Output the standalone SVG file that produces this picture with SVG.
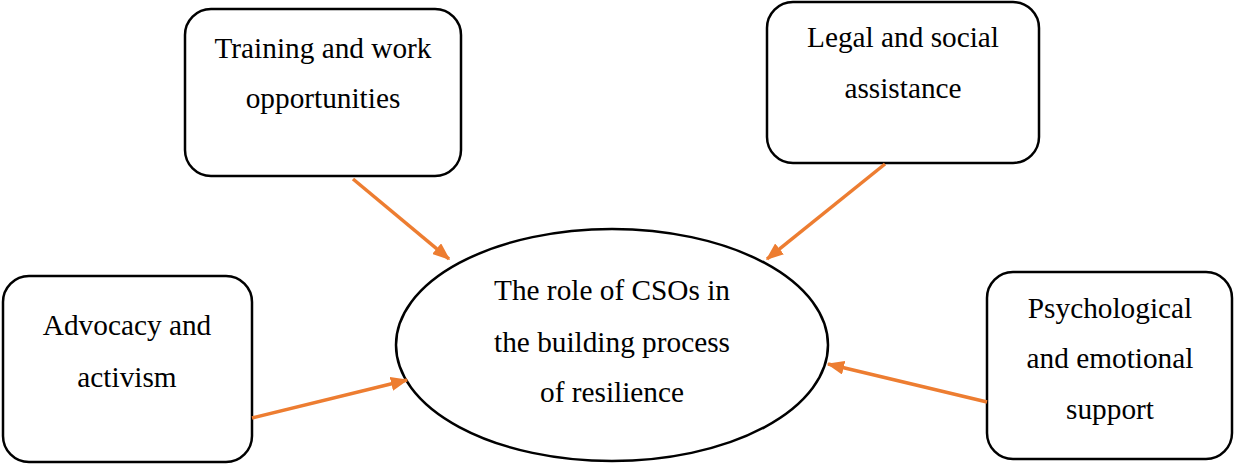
<svg xmlns="http://www.w3.org/2000/svg" width="1234" height="464" viewBox="0 0 1234 464">
<style>
.box{fill:#fff;stroke:#000;stroke-width:2.5}
.t{font-family:"Liberation Serif","Times New Roman",serif;font-size:29.3px;fill:#000;text-anchor:middle}
.c{stroke:#ED7D31;stroke-width:3.5;fill:none;marker-end:url(#ah)}
</style>
<defs>
<marker id="ah" markerWidth="5" markerHeight="4" refX="4.6" refY="2" orient="auto" markerUnits="strokeWidth">
<path d="M0,0 L5,2 L0,4 Z" fill="#ED7D31"/>
</marker>
</defs>
<g id="center">
<ellipse class="box" cx="612" cy="345" rx="216" ry="116"/>
<text class="t" x="612" y="300">The role of CSOs in</text>
<text class="t" x="612" y="352">the building process</text>
<text class="t" x="612" y="402">of resilience</text>
</g>
<g id="training">
<rect class="box" x="185" y="9" width="276" height="167" rx="26"/>
<text class="t" x="323" y="58">Training and work</text>
<text class="t" x="323" y="108">opportunities</text>
</g>
<g id="legal">
<rect class="box" x="767" y="2" width="272" height="161" rx="26"/>
<text class="t" x="903" y="47">Legal and social</text>
<text class="t" x="903" y="98">assistance</text>
</g>
<g id="advocacy">
<rect class="box" x="3" y="276" width="249" height="186" rx="26"/>
<text class="t" x="127" y="335">Advocacy and</text>
<text class="t" x="127" y="387">activism</text>
</g>
<g id="psych">
<rect class="box" x="987" y="272" width="245" height="187" rx="26"/>
<text class="t" x="1110" y="318">Psychological</text>
<text class="t" x="1110" y="368">and emotional</text>
<text class="t" x="1110" y="419">support</text>
</g>
<g id="connectors">
<line class="c" x1="353" y1="179" x2="449" y2="259"/>
<line class="c" x1="885" y1="164" x2="767" y2="259"/>
<line class="c" x1="252" y1="418" x2="407" y2="380"/>
<line class="c" x1="987" y1="402" x2="828" y2="364"/>
</g>
</svg>
